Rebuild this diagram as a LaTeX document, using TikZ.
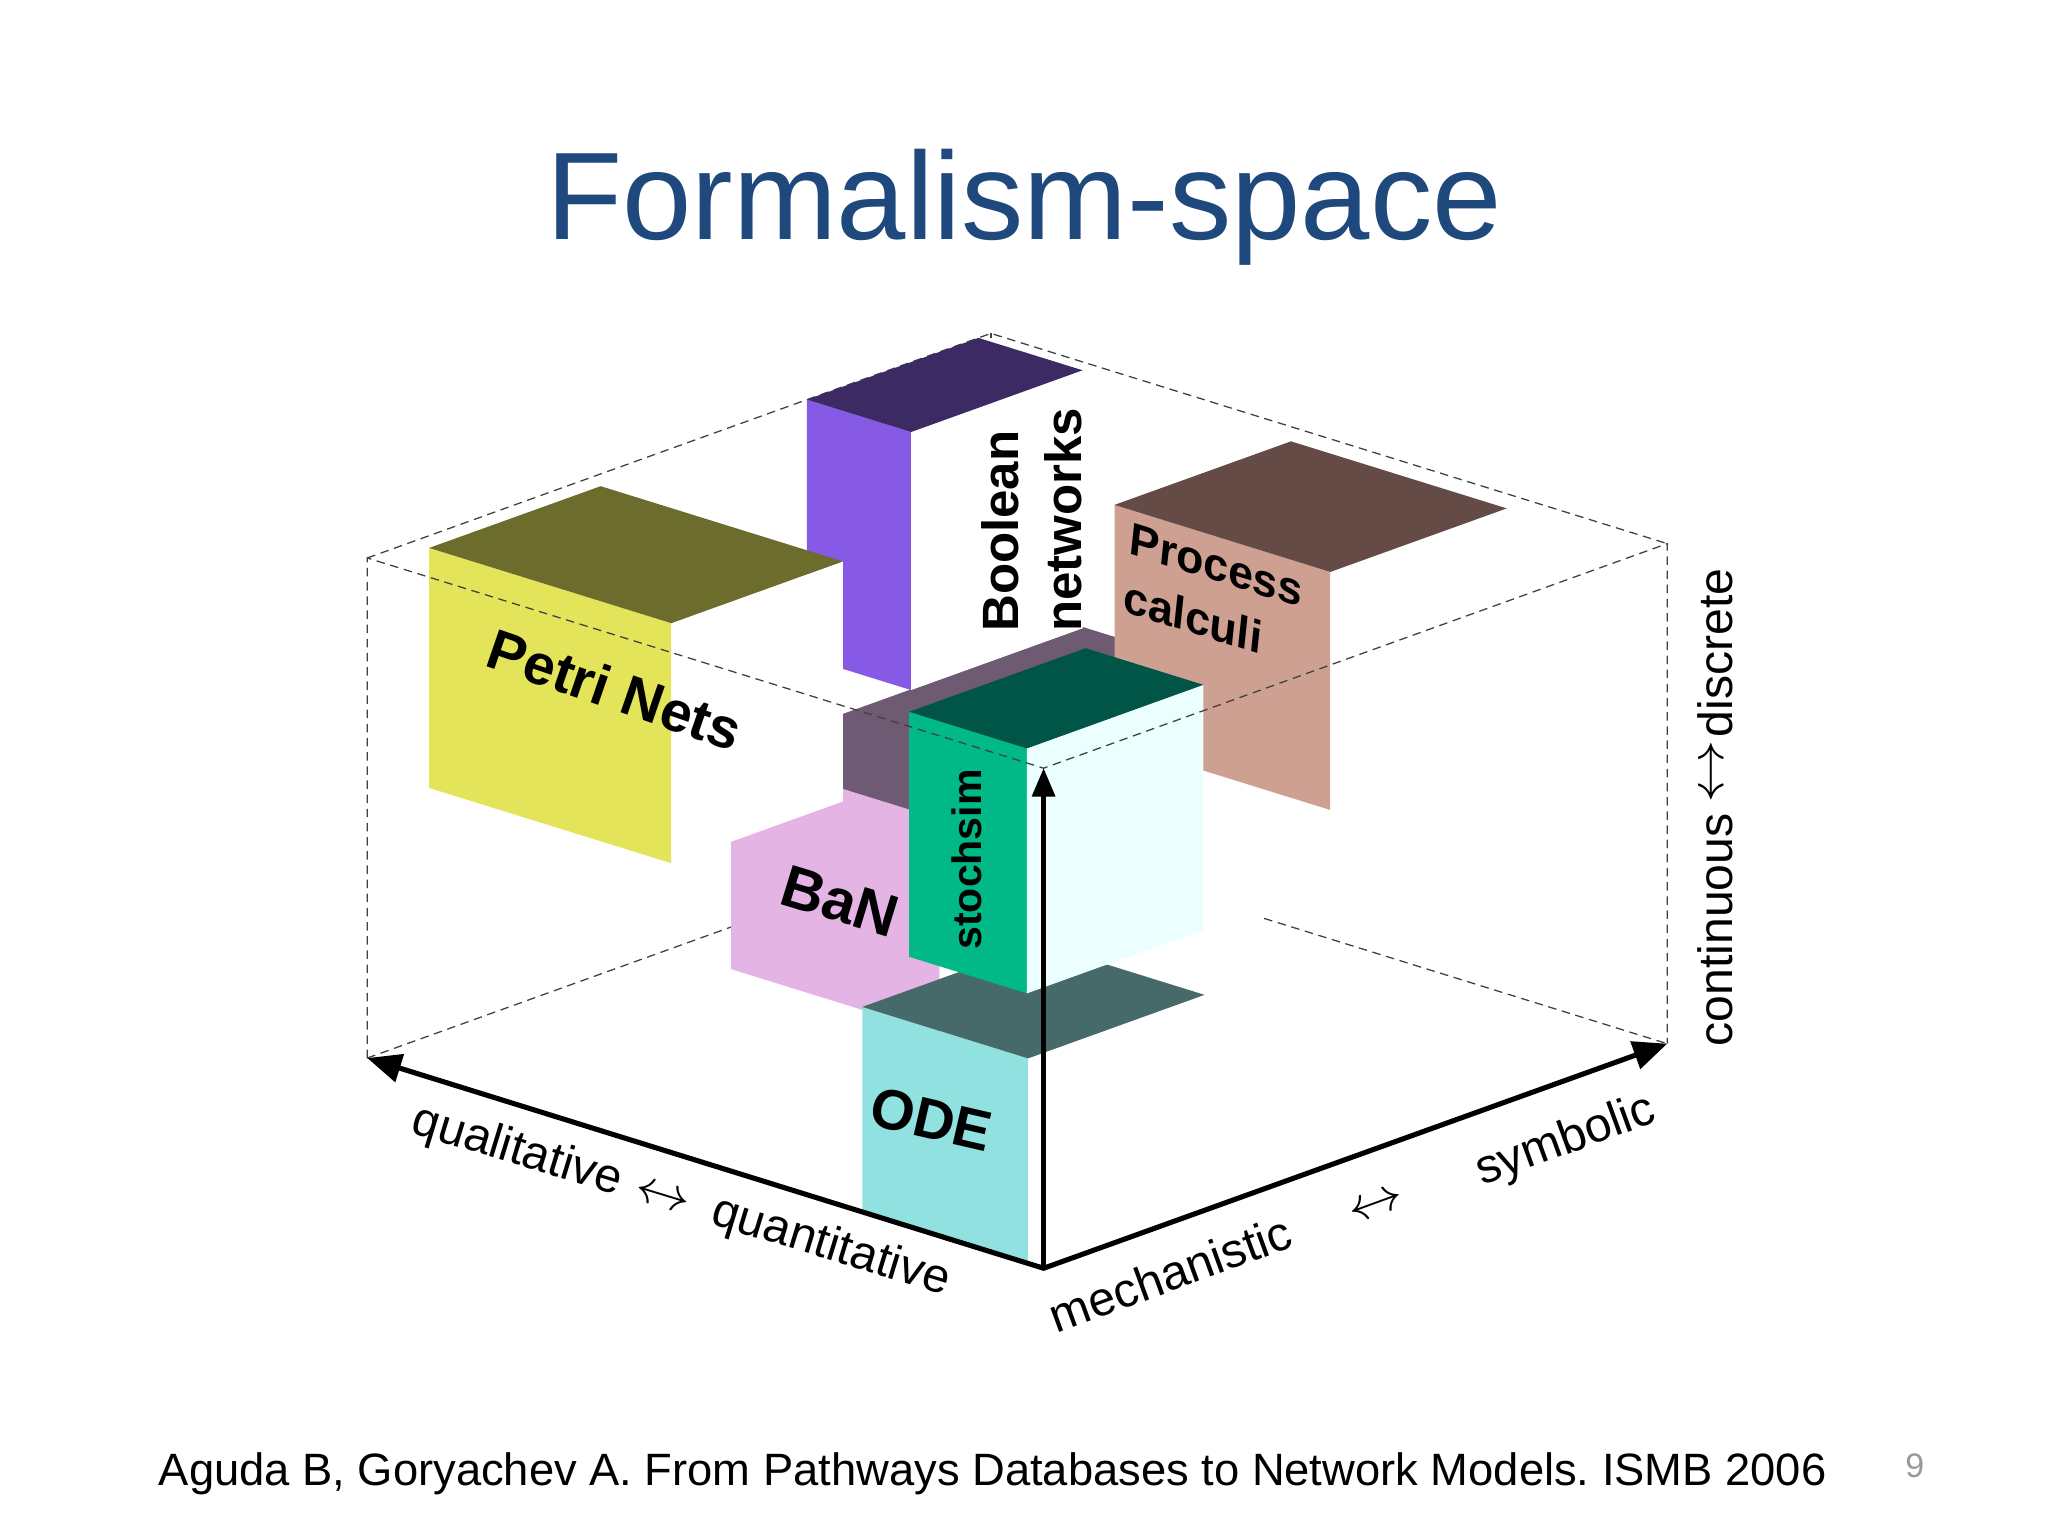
\documentclass[tikz,border=0pt]{standalone}
\usepackage{fontspec}
\usepackage{graphicx}
\setmainfont{Liberation Sans}
\usetikzlibrary{arrows.meta}
\frenchspacing

\definecolor{titleblue}{RGB}{31,73,125}
\definecolor{petrifront}{RGB}{228,228,90}
\definecolor{petritop}{RGB}{108,108,45}
\definecolor{boolfront}{RGB}{135,90,230}
\definecolor{booltop}{RGB}{60,42,100}
\definecolor{procfront}{RGB}{205,160,145}
\definecolor{proctop}{RGB}{100,75,70}
\definecolor{stochfront}{RGB}{0,185,135}
\definecolor{stochtop}{RGB}{0,85,70}
\definecolor{stochside}{RGB}{235,255,255}
\definecolor{banfront}{RGB}{228,180,228}
\definecolor{bantop}{RGB}{110,90,115}
\definecolor{odefront}{RGB}{145,225,225}
\definecolor{odetop}{RGB}{70,105,105}

\begin{document}
\begin{tikzpicture}[x=0.0162cm, y=-0.0162cm,
    boxedge/.style={densely dashed, line width=0.45pt, black!75},
    axis/.style={line width=1.8pt, {Triangle[length=12pt,width=10pt]}-{Triangle[length=12pt,width=10pt]}},
    blocklabel/.style={font=\bfseries\fontsize{20}{22}\selectfont},
    axislabel/.style={font=\fontsize{17}{20}\selectfont}]
    \useasboundingbox (0,0) rectangle (1568,1176);

    % Title
    \node[text=titleblue, font=\fontsize{44}{50}\selectfont, anchor=base] (title) at (784,183) {Formalism-space};

    \begin{scope}[shift={(799,971)}, x={(-8.391cm,2.608cm)}, y={(7.737cm,2.786cm)}, z={(0cm,6.204cm)}]
        % Define the corners of the cube
        \coordinate (o) at (0,0,0);
        \coordinate (qual) at (1,0,0);
        \coordinate (symb) at (0,1,0);
        \coordinate (disc) at (0,0,1);
        \coordinate (back) at (1,1,0);
        \coordinate (qualtop) at (1,0,1);
        \coordinate (symbtop) at (0,1,1);
        \coordinate (backtop) at (1,1,1);

        % Hidden edges
        \draw[boxedge] (qual) -- (back) -- (symb);
        \draw[boxedge] (back) -- (backtop);
        \draw[boxedge] (qualtop) -- (backtop) -- (symbtop);

        % Draw the blocks, back to front
        \foreach \ai/\aii/\bi/\bii/\ci/\cii/\colfront/\coltop/\colside in
            {0.555/0.863/0.435/1.0/0.04/0.47/banfront/bantop/white,
             0.846/1.0/0.705/0.98/0.484/1.0/boolfront/booltop/white,
             0.205/0.524/0.682/0.965/0.524/1.0/procfront/proctop/white,
             0.615/0.973/0.07/0.345/0.52/1.0/petrifront/petritop/white,
             0.023/0.268/0/0.283/0/0.41/odefront/odetop/white,
             0.057/0.231/0.035/0.318/0.51/1.0/stochfront/stochtop/stochside}
        {
            \fill[\colfront] (\aii,\bi,\cii) -- (\ai,\bi,\cii) -- (\ai,\bi,\ci) -- (\aii,\bi,\ci) -- cycle;
            \fill[\colside] (\ai,\bi,\cii) -- (\ai,\bii,\cii) -- (\ai,\bii,\ci) -- (\ai,\bi,\ci) -- cycle;
            \fill[\coltop] (\ai,\bi,\cii) -- (\aii,\bi,\cii) -- (\aii,\bii,\cii) -- (\ai,\bii,\cii) -- cycle;
        }

        % Visible edges
        \draw[boxedge] (qual) -- (qualtop) -- (disc) -- (symbtop) -- (symb);

        % Draw the axes
        \draw[axis] (qual) -- (o) -- (symb);
        \draw[line width=1.5pt, -{Triangle[length=10pt,width=8pt]}] (o) -- (disc);
    \end{scope}

    % Block labels
    \node[blocklabel, rotate=-19] (petri) at (471,528) {Petri Nets};
    \node[blocklabel, font=\bfseries\fontsize{18}{22.5}\selectfont, rotate=90, align=left] (boolean) at (790,398) {Boolean\\networks};
    \node[blocklabel, font=\bfseries\fontsize{16}{20.5}\selectfont, rotate=-6, yslant=-0.2, align=left] (process) at (929,455) {Process\\calculi};
    \node[blocklabel, font=\bfseries\fontsize{14.5}{17}\selectfont, rotate=90] (stochsim) at (740,658) {stochsim};
    \node[blocklabel, font=\bfseries\fontsize{21}{24}\selectfont, rotate=-17] (ban) at (643,690) {BaN};
    \node[blocklabel, rotate=-13] (ode) at (713,857) {ODE};

    % Axis labels
    \node[axislabel, rotate=-17] (qualitative) at (396,882) {qualitative};
    \node[axislabel, rotate=-17] (qqarrow) at (507,917) {\scalebox{1.15}[1]{$\leftrightarrow$}};
    \node[axislabel, rotate=-17] (quantitative) at (636,955) {quantitative};
    \node[axislabel, rotate=20] (mechanistic) at (896,975) {mechanistic};
    \node[axislabel, rotate=20] (msarrow) at (1054,924) {\scalebox{1.15}[1]{$\leftrightarrow$}};
    \node[axislabel, rotate=20] (symbolic) at (1199,874) {symbolic};
    \node[axislabel, rotate=90] (continuous) at (1313,712) {continuous};
    \node[axislabel, rotate=90] (cdarrow) at (1313,591) {\scalebox{1.3}[1]{$\leftrightarrow$}};
    \node[axislabel, rotate=90] (discrete) at (1313,500) {discrete};

    % Reference and page number
    \node[anchor=base, font=\fontsize{16}{19}\selectfont] (cite) at (760,1137) {Aguda B, Goryachev A. From Pathways Databases to Network Models. ISMB 2006};
    \node[text=black!40, font=\fontsize{12}{14}\selectfont] (page) at (1466,1122) {9};
\end{tikzpicture}
\end{document}
